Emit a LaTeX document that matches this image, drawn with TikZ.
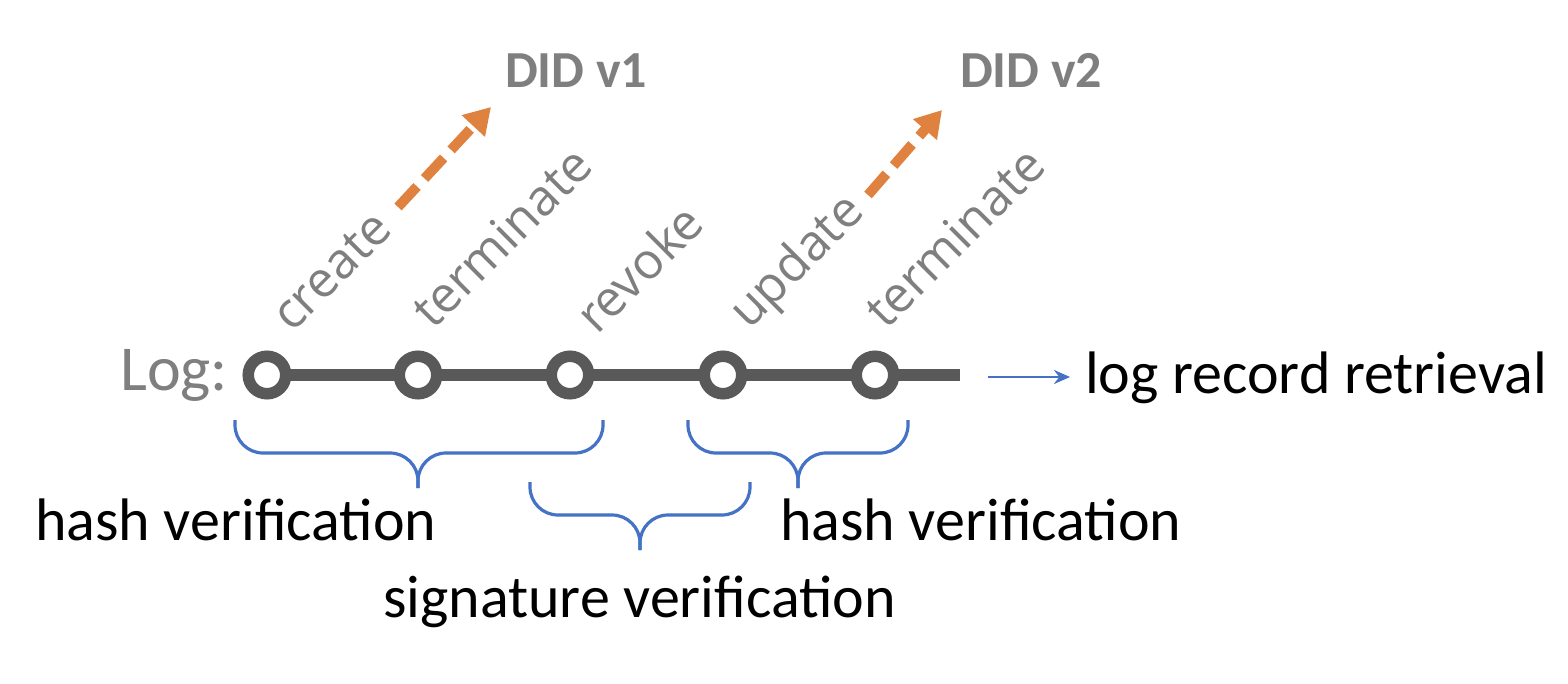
\documentclass[tikz,border=0pt]{standalone}
\usepackage{fontspec}
\setmainfont{Carlito}
\newfontfamily\lblfont{Open Sans}
\usetikzlibrary{arrows.meta,backgrounds}
\definecolor{dgray}{HTML}{595959}
\definecolor{lgray}{HTML}{7F7F7F}
\definecolor{bl}{HTML}{4472C4}
\definecolor{org}{HTML}{E0823F}
\tikzset{
  ev/.style={circle,draw=dgray,line width=11.5pt,fill=white,minimum size=37.5pt,inner sep=0pt},
  op/.style={rotate=45,anchor=base west,inner sep=0pt,text=lgray,font=\lblfont\fontsize{50}{58}\selectfont},
  did/.style={inner sep=0pt,text=lgray,font=\bfseries\fontsize{52}{60}\selectfont},
  lbl/.style={inner sep=0pt,font=\fontsize{60}{70}\selectfont},
  brace/.style={draw=bl,line width=3.2pt,rounded corners=28pt},
  orarrow/.style={draw=org,line width=10pt,dash pattern=on 28pt off 11pt,-{Triangle[length=26pt,width=30pt]}},
}
\begin{document}
\begin{tikzpicture}[x=1pt,y=-1pt]
\useasboundingbox (0,0) rectangle (1568,684);
% log label
\node[inner sep=0pt,text=lgray,font=\fontsize{64}{72}\selectfont,anchor=west] (log) at (120,375) {Log:};
% events
\node[ev] (c1) at (267,375) {};
\node[ev] (c2) at (418,375) {};
\node[ev] (c3) at (570,375) {};
\node[ev] (c4) at (723,375) {};
\node[ev] (c5) at (875,375) {};
\coordinate (lend) at (960,375);
\begin{pgfonlayer}{background}
\draw[dgray,line width=12pt] (c1.center) -- (c2.center) -- (c3.center) -- (c4.center) -- (c5.center) -- (lend);
\end{pgfonlayer}
% operation labels
\node[op] (o1) at (292,334) {create};
\node[op] (o2) at (433,331) {terminate};
\node[op] (o3) at (597,336) {revoke};
\node[op] (o4) at (749,331) {update};
\node[op] (o5) at (886,331) {terminate};
% DID versions
\node[did,anchor=south west] (d1) at (505,88) {DID v1};
\node[did,anchor=south west] (d2) at (960,88) {DID v2};
\coordinate (a1s) at (398,207);
\coordinate (a1e) at (491,107);
\coordinate (a2s) at (868,195);
\coordinate (a2e) at (942,110);
\draw[orarrow] (a1s) -- (a1e);
\draw[orarrow] (a2s) -- (a2e);
% retrieval
\node[lbl,anchor=base west] (ret) at (1085,393) {log record retrieval};
\coordinate (rs) at (988,377);
\coordinate (re) at (1070,377);
\draw[bl,line width=2.5pt,-{Stealth[length=16pt,width=14pt]}] (rs) -- (re);
% braces
\coordinate (b1m) at (418,488);
\draw[brace] (235,420) -- (235,453) -- (418,453) -- (b1m);
\draw[brace] (603,420) -- (603,453) -- (418,453) -- (b1m);
\coordinate (b2m) at (640,550);
\draw[brace] (530,482) -- (530,515) -- (640,515) -- (b2m);
\draw[brace] (750,482) -- (750,515) -- (640,515) -- (b2m);
\coordinate (b3m) at (798,488);
\draw[brace] (688,420) -- (688,453) -- (798,453) -- (b3m);
\draw[brace] (908,420) -- (908,453) -- (798,453) -- (b3m);
% brace labels
\node[lbl,anchor=base west] (h1) at (35,540) {hash verification};
\node[lbl,anchor=base west] (h2) at (780,540) {hash verification};
\node[lbl,anchor=base west] (sv) at (383,617) {signature verification};
\end{tikzpicture}
\end{document}
